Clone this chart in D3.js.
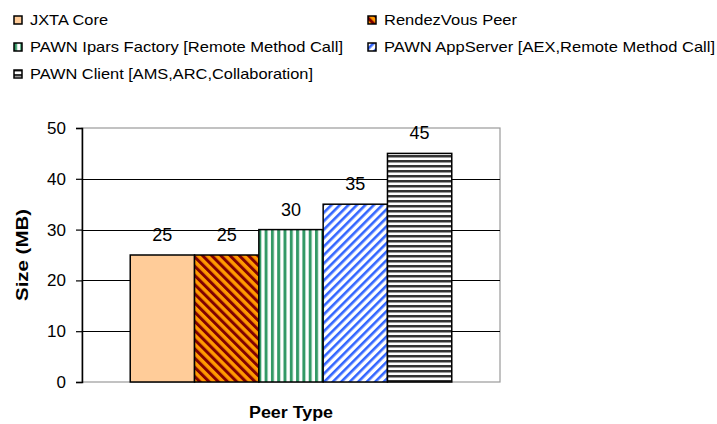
<!DOCTYPE html>
<html>
<head>
<meta charset="utf-8">
<script src="https://cdn.jsdelivr.net/npm/d3@7"></script>
<style>
  html, body { margin: 0; padding: 0; background: #fff; }
  svg { display: block; font-family: "Liberation Sans", Arial, sans-serif; }
</style>
</head>
<body>
<svg id="chart" width="717" height="424"></svg>
<script>
// Memory footprint per peer type
const seriesNames = [
  "JXTA Core",
  "RendezVous Peer",
  "PAWN Ipars Factory [Remote Method Call]",
  "PAWN AppServer [AEX,Remote Method Call]",
  "PAWN Client [AMS,ARC,Collaboration]"
];
const seriesValues = [25, 25, 30, 35, 45];
const yTicks = [0, 10, 20, 30, 40, 50];
const yTitle = "Size (MB)";
const xTitle = "Peer Type";

const svg = d3.select("#chart");
const plot = { left: 82, right: 500, top: 128, bottom: 382 };

// Fill patterns for each series
const defs = svg.append("defs");
function stripePattern(id, size, bg, fg, fgWidth, angle, horizontal) {
  const p = defs.append("pattern")
    .attr("id", id)
    .attr("patternUnits", "userSpaceOnUse")
    .attr("width", size).attr("height", size);
  if (angle) p.attr("patternTransform", `rotate(${angle})`);
  p.append("rect").attr("width", size).attr("height", size).attr("fill", bg);
  if (horizontal) {
    p.append("rect").attr("width", size).attr("height", fgWidth).attr("fill", fg);
  } else {
    p.append("rect").attr("width", fgWidth).attr("height", size).attr("fill", fg);
  }
  return `url(#${id})`;
}
const fills = [
  "#FFCC99",
  stripePattern("p-rdv", 6.5, "#FF9900", "#800000", 3, -45, false),
  stripePattern("p-ipars", 6.3, "#ffffff", "#339966", 3, 0, false),
  stripePattern("p-app", 6, "#ffffff", "#3366FF", 2.6, 45, false),
  stripePattern("p-client", 5, "#ffffff", "#333333", 2.5, 0, true)
];

// Scales
const y = d3.scaleLinear().domain([0, 50]).range([plot.bottom, plot.top]);
const gapWidth = 1.5;
const barW = (plot.right - plot.left) / (seriesNames.length + gapWidth);
const x = d3.scaleBand()
  .domain(seriesNames)
  .range([plot.left + barW * gapWidth / 2, plot.right - barW * gapWidth / 2])
  .padding(0);

// Plot frame
svg.append("rect")
  .attr("x", plot.left).attr("y", plot.top)
  .attr("width", plot.right - plot.left).attr("height", plot.bottom - plot.top)
  .attr("fill", "none").attr("stroke", "#9a9a9a").attr("stroke-width", 1.2);

// Gridlines
svg.append("g").selectAll("line")
  .data(yTicks.filter(t => t > 0 && t < 50))
  .join("line")
  .attr("x1", plot.left).attr("x2", plot.right)
  .attr("y1", d => Math.round(y(d)) + 0.5).attr("y2", d => Math.round(y(d)) + 0.5)
  .attr("stroke", "#000").attr("stroke-width", 1.2);

// Bars
svg.append("g").selectAll("rect")
  .data(seriesValues)
  .join("rect")
  .attr("x", (d, i) => x(seriesNames[i]))
  .attr("y", d => y(d))
  .attr("width", x.bandwidth())
  .attr("height", d => y(0) - y(d))
  .attr("fill", (d, i) => fills[i])
  .attr("stroke", "#000").attr("stroke-width", 1.5);

// Value labels
svg.append("g").selectAll("text")
  .data(seriesValues)
  .join("text")
  .attr("x", (d, i) => x(seriesNames[i]) + x.bandwidth() / 2)
  .attr("y", d => y(d) - 14)
  .attr("text-anchor", "middle")
  .attr("font-size", 18)
  .attr("fill", "#000")
  .text(d => d);

// Y axis
const yAxis = svg.append("g")
  .attr("transform", `translate(${plot.left},0)`)
  .call(d3.axisLeft(y).tickValues(yTicks).tickSize(6).tickPadding(10));
yAxis.select(".domain").attr("stroke", "#000").attr("stroke-width", 1.5);
yAxis.selectAll(".tick line").attr("stroke", "#000").attr("stroke-width", 1.2);
yAxis.selectAll(".tick text")
  .attr("font-size", 17).attr("font-family", "Liberation Sans, Arial, sans-serif")
  .attr("fill", "#000");

// Axis titles
svg.append("text")
  .attr("transform", `translate(28,${(plot.top + plot.bottom) / 2}) rotate(-90)`)
  .attr("text-anchor", "middle")
  .attr("font-size", 16).attr("font-weight", "bold")
  .attr("textLength", 92).attr("lengthAdjust", "spacingAndGlyphs")
  .text(yTitle);
svg.append("text")
  .attr("x", (plot.left + plot.right) / 2).attr("y", 418)
  .attr("text-anchor", "middle")
  .attr("font-size", 16).attr("font-weight", "bold")
  .attr("textLength", 84).attr("lengthAdjust", "spacingAndGlyphs")
  .text(xTitle);

// Legend (two columns)
const legendPos = [[14, 20], [368, 20], [14, 47], [368, 47], [14, 74]];
const legendWidths = [78, 133, 313, 331, 283];
const legend = svg.append("g").selectAll("g")
  .data(seriesNames)
  .join("g")
  .attr("transform", (d, i) => `translate(${legendPos[i][0]},${legendPos[i][1]})`);
legend.append("rect")
  .attr("x", 0).attr("y", -4).attr("width", 8).attr("height", 8)
  .attr("fill", (d, i) => fills[i])
  .attr("stroke", "#000").attr("stroke-width", 1.5);
legend.append("text")
  .attr("x", 16).attr("y", 5)
  .attr("font-size", 15)
  .attr("fill", "#000")
  .attr("textLength", (d, i) => legendWidths[i])
  .attr("lengthAdjust", "spacingAndGlyphs")
  .text(d => d);
</script>
</body>
</html>
